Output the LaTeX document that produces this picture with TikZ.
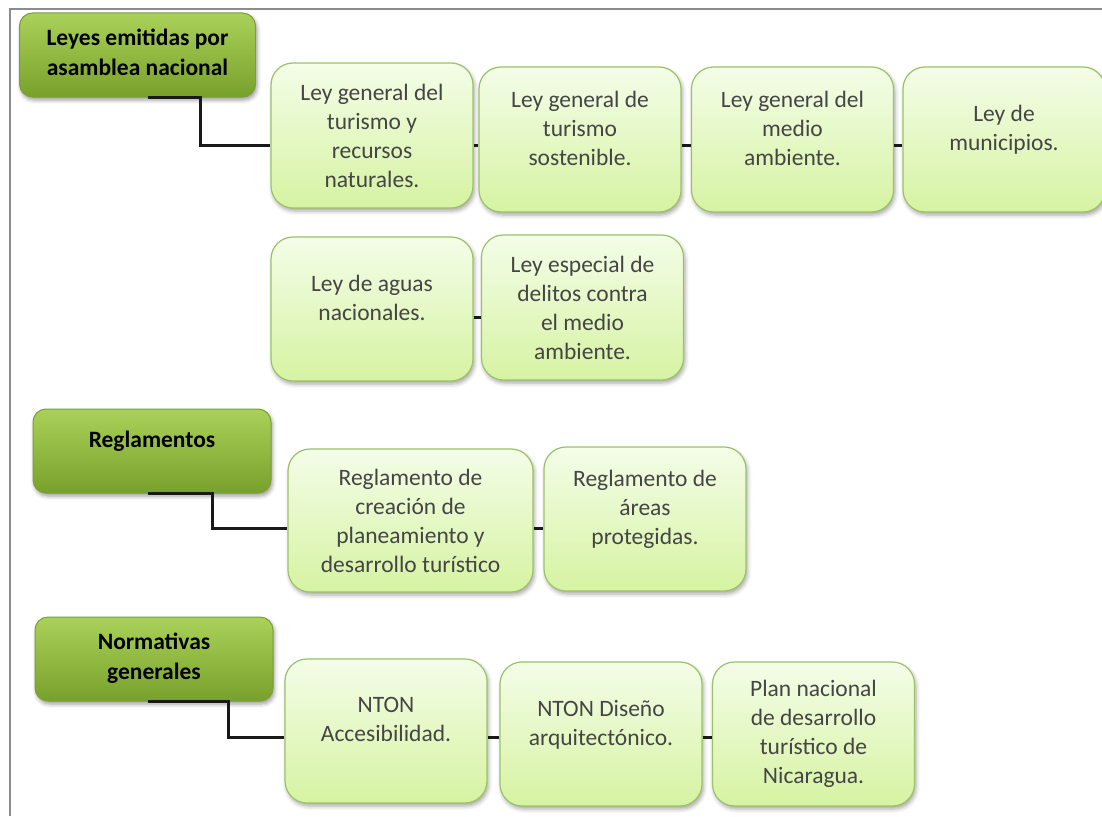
\documentclass[tikz,border=0pt]{standalone}
\usepackage{fontspec}
\setmainfont{Carlito}
\usetikzlibrary{shadows.blur,calc}
\definecolor{ltop}{HTML}{F4FDE8}
\definecolor{lbot}{HTML}{D6F3A2}
\definecolor{lborder}{HTML}{9CC267}
\definecolor{ltext}{HTML}{454545}
\definecolor{htop}{HTML}{AAD25A}
\definecolor{hbot}{HTML}{78A12B}
\definecolor{hborder}{HTML}{7A9E38}
\definecolor{frame}{HTML}{8C8C8C}
\newcommand\padline{\\[-6pt]\mbox{}}
\newcommand\padsmall{\\[-24pt]\mbox{}}
\begin{document}
\begin{tikzpicture}[x=1pt,y=-1pt,
  lbox/.style={rectangle, rounded corners=22pt, draw=lborder, line width=1.2pt,
    top color=ltop, bottom color=lbot, minimum width=202pt, minimum height=145pt,
    align=center, text=ltext, font=\fontsize{23.5}{29}\selectfont, inner sep=2pt,
    blur shadow={shadow xshift=1.5pt, shadow yshift=-3pt, shadow blur radius=4pt, shadow opacity=35}},
  hbox/.style={rectangle, rounded corners=13pt, draw=hborder, line width=1pt,
    top color=htop, bottom color=hbot, minimum width=236pt, minimum height=84pt,
    align=center, text=black, font=\bfseries\fontsize{23.5}{30}\selectfont, inner sep=2pt,
    blur shadow={shadow xshift=1.5pt, shadow yshift=-3pt, shadow blur radius=4pt, shadow opacity=40}},
  conn/.style={line width=3pt, draw=black!90}]
\useasboundingbox (0,0) rectangle (1102,816);
% frame
\draw[frame, line width=2pt] (10,816) -- (10,9) -- (1102,9);
% headers
\node[hbox] (h1) at (137.5,55) {Leyes emitidas por\\asamblea nacional\padsmall};
\node[hbox, minimum width=238pt] (h2) at (152,451) {Reglamentos\padline};
\node[hbox, minimum width=238pt] (h3) at (154,659) {Normativas\\generales\padsmall};
% row A
\node[lbox] (a1) at (372,135.5) {Ley general del\\turismo y\\recursos\\naturales.};
\node[lbox] (a2) at (580,139.5) {Ley general de\\turismo\\sostenible.\padline};
\node[lbox] (a3) at (792.5,139.5) {Ley general del\\medio\\ambiente.\padline};
\node[lbox] (a4) at (1004,139.5) {Ley de\\municipios.\padline};
% row B
\node[lbox, minimum height=144pt] (b1) at (372,309) {Ley de aguas\\nacionales.\padline};
\node[lbox] (b2) at (582.5,307.5) {Ley especial de\\delitos contra\\el medio\\ambiente.};
% row C
\node[lbox, minimum width=245pt, minimum height=143pt] (c1) at (410.5,520.5) {Reglamento de\\creación de\\planeamiento y\\desarrollo turístico};
\node[lbox, minimum height=144pt] (c2) at (645,519) {Reglamento de\\áreas\\protegidas.\padline};
% row D
\node[lbox, minimum height=144pt] (d1) at (386,731) {NTON\\Accesibilidad.\padline};
\node[lbox, minimum height=144pt] (d2) at (601,734) {NTON Diseño\\arquitectónico.\padline};
\node[lbox, minimum height=144pt] (d3) at (813.5,734) {Plan nacional\\de desarrollo\\turístico de\\Nicaragua.};
% row coordinates
\coordinate (rowA) at (0,145);
\coordinate (rowB) at (0,317);
\coordinate (rowC) at (0,528);
\coordinate (rowD) at (0,737);
% connectors
\draw[conn] ($(h1.south)+(10.5,0)$) -- ++(52,0) |- (a1.west |- rowA);
\draw[conn] (a1.east |- rowA) -- (a2.west |- rowA);
\draw[conn] (a2.east |- rowA) -- (a3.west |- rowA);
\draw[conn] (a3.east |- rowA) -- (a4.west |- rowA);
\draw[conn] (b1.east |- rowB) -- (b2.west |- rowB);
\draw[conn] ($(h2.south)+(-4,0)$) -- ++(64,0) |- (c1.west |- rowC);
\draw[conn] (c1.east |- rowC) -- (c2.west |- rowC);
\draw[conn] ($(h3.south)+(-6,0)$) -- ++(80,0) |- (d1.west |- rowD);
\draw[conn] (d1.east |- rowD) -- (d2.west |- rowD);
\draw[conn] (d2.east |- rowD) -- (d3.west |- rowD);
\end{tikzpicture}
\end{document}
